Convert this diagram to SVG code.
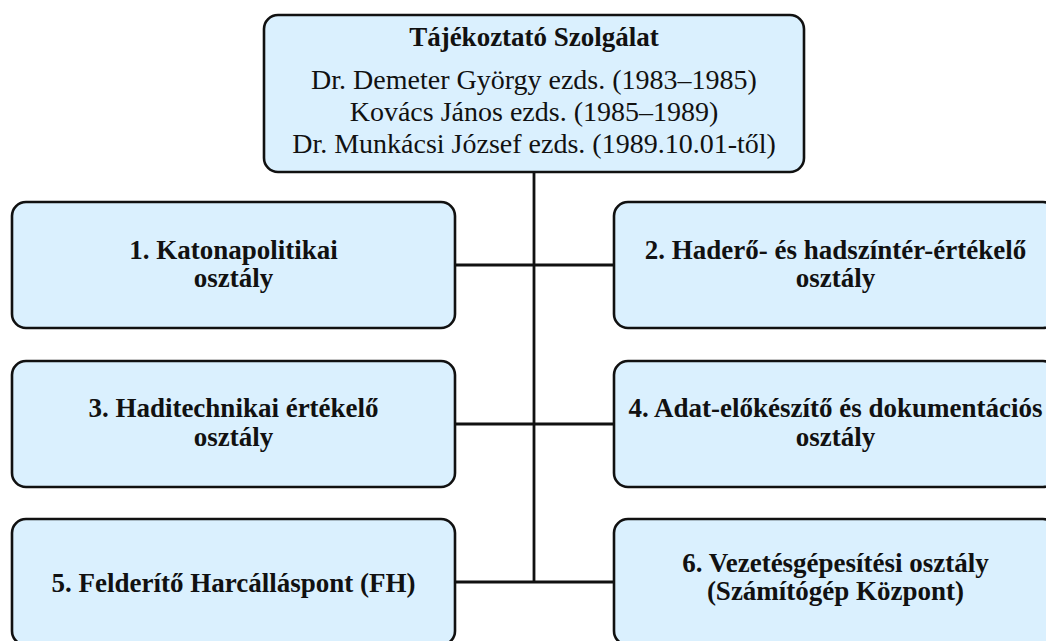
<svg xmlns="http://www.w3.org/2000/svg" width="1046" height="641" viewBox="0 0 1046 641">
<style>
.box{fill:#daf0fe;stroke:#111;stroke-width:2.6}
.t{font-family:"Liberation Serif","Times New Roman",serif;fill:#111;text-anchor:middle}
.b{font-weight:bold;font-size:27px}
.r{font-size:28px}
.c{stroke:#111;stroke-width:2.8;fill:none}
</style>
<rect width="1046" height="641" fill="#fff"/>
<g id="connectors">
<line class="c" x1="534" y1="172" x2="534" y2="583"/>
<line class="c" x1="455" y1="265" x2="614" y2="265"/>
<line class="c" x1="455" y1="424" x2="614" y2="424"/>
<line class="c" x1="455" y1="582" x2="614" y2="582"/>
</g>
<g id="top">
<rect class="box" x="264" y="15" width="540" height="157" rx="14"/>
<text class="t b" x="534" y="46">Tájékoztató Szolgálat</text>
<text class="t r" x="534" y="89">Dr. Demeter György ezds. (1983–1985)</text>
<text class="t r" x="534" y="121">Kovács János ezds. (1985–1989)</text>
<text class="t r" x="534" y="153">Dr. Munkácsi József ezds. (1989.10.01-től)</text>
</g>
<g id="n1">
<rect class="box" x="12" y="202" width="443" height="126" rx="14"/>
<text class="t b" x="233.5" y="259">1. Katonapolitikai</text>
<text class="t b" x="233.5" y="287">osztály</text>
</g>
<g id="n2">
<rect class="box" x="614" y="202" width="443" height="126" rx="14"/>
<text class="t b" x="835.5" y="259">2. Haderő- és hadszíntér-értékelő</text>
<text class="t b" x="835.5" y="287">osztály</text>
</g>
<g id="n3">
<rect class="box" x="12" y="361" width="443" height="126" rx="14"/>
<text class="t b" x="233.5" y="417">3. Haditechnikai értékelő</text>
<text class="t b" x="233.5" y="446">osztály</text>
</g>
<g id="n4">
<rect class="box" x="614" y="361" width="443" height="126" rx="14"/>
<text class="t b" x="835.5" y="417">4. Adat-előkészítő és dokumentációs</text>
<text class="t b" x="835.5" y="446">osztály</text>
</g>
<g id="n5">
<rect class="box" x="12" y="519" width="443" height="126" rx="14"/>
<text class="t b" x="233.5" y="592">5. Felderítő Harcálláspont (FH)</text>
</g>
<g id="n6">
<rect class="box" x="614" y="519" width="443" height="126" rx="14"/>
<text class="t b" x="835.5" y="572">6. Vezetésgépesítési osztály</text>
<text class="t b" x="835.5" y="600">(Számítógép Központ)</text>
</g>
</svg>
